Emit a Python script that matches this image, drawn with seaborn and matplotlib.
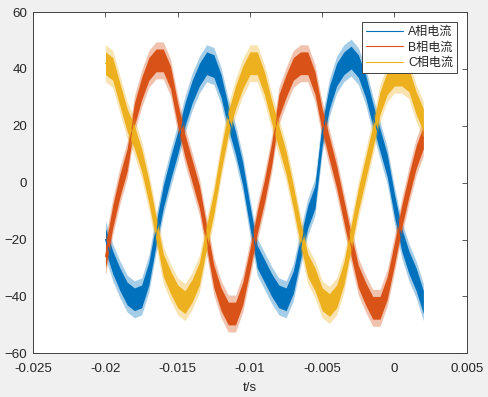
import numpy as np
import pandas as pd
import matplotlib
matplotlib.use("Agg")
import matplotlib.pyplot as plt
import seaborn as sns

# ---- data (time in s, current centre values) ----
t = [-0.0200, -0.0195, -0.0190, -0.0185, -0.0180, -0.0175, -0.0170, -0.0165,
     -0.0160, -0.0155, -0.0150, -0.0145, -0.0140, -0.0135, -0.0130, -0.0125,
     -0.0120, -0.0115, -0.0110, -0.0105, -0.0100, -0.0095, -0.0090, -0.0085,
     -0.0080, -0.0075, -0.0070, -0.0065, -0.0060, -0.0055, -0.0050, -0.0045,
     -0.0040, -0.0035, -0.0030, -0.0025, -0.0020, -0.0015, -0.0010, -0.0005,
     0.0000, 0.0005, 0.0010, 0.0015, 0.0020]

ia = [-20, -28, -34, -39, -41, -40, -32, -18, -5, 5, 14, 24, 32, 38, 42, 41,
      34, 23, 14, 3, -12, -26, -31, -36, -40, -41, -35, -23, -12, -5, 17, 30,
      38, 42, 44, 41, 34, 24, 15, 6, -8, -20, -28, -34, -42]
ib = [-26, -12, -1, 8, 24, 33, 40, 43, 43, 37, 24, 13, 4, -5, -19, -33,
      -41, -46, -46, -39, -27, -14, -3, 10, 27, 34, 40, 42, 42, 35, 22, 12,
      2, -10, -22, -33, -39, -44, -44, -37, -25, -12, -1, 9, 16]
ic = [42, 40, 31, 22, 16, 8, -3, -16, -29, -35, -40, -42, -38, -32, -19, -7,
      8, 21, 30, 37, 42, 42, 35, 25, 16, 7, -5, -18, -29, -34, -41, -43,
      -40, -32, -19, -6, 5, 16, 28, 35, 38, 38, 36, 28, 22]

series_names = ["A相电流", "B相电流", "C相电流"]
series_values = [ia, ib, ic]
inner_halfwidth = [4, 4, 4]        # dense ripple band
outer_halfwidth = [6.5, 6.5, 6.5]  # sparse ripple spikes

x_ticks = [-0.025, -0.02, -0.015, -0.01, -0.005, 0, 0.005]
x_tick_labels = ["-0.025", "-0.02", "-0.015", "-0.01", "-0.005", "0", "0.005"]
y_ticks = [-60, -40, -20, 0, 20, 40, 60]

colors = ["#0072BD", "#D95319", "#EDB120"]

# ---- figure ----
sns.set_theme(style="white")
plt.rcParams["font.family"] = ["Liberation Sans", "Noto Sans CJK SC", "DejaVu Sans"]

fig = plt.figure(figsize=(4.89, 3.97), dpi=100, facecolor="#F0F0F0")
ax = fig.add_axes([0.068, 0.110, 0.8864, 0.8597])
ax.set_facecolor("white")

df = pd.concat([pd.DataFrame({"t": t, "i": v, "phase": n})
                for n, v in zip(series_names, series_values)], ignore_index=True)

for name, vals, col, hin, hout in zip(series_names, series_values, colors,
                                      inner_halfwidth, outer_halfwidth):
    v = np.asarray(vals, dtype=float)
    ax.fill_between(t, v - hout, v + hout, color=col, alpha=0.35, lw=0)
    ax.fill_between(t, v - hin, v + hin, color=col, alpha=1.0, lw=0)

sns.lineplot(data=df, x="t", y="i", hue="phase", palette=colors, ax=ax,
             linewidth=0.8, legend=True)

ax.set_xlim(-0.025, 0.005)
ax.set_ylim(-60, 60)
ax.set_xticks(x_ticks)
ax.set_xticklabels(x_tick_labels)
ax.set_yticks(y_ticks)
ax.set_xlabel("t/s", fontsize=9.6, color="#262626", labelpad=5)
ax.set_ylabel("")

ax.tick_params(axis="both", which="both", direction="in", length=3.5, width=0.6,
               top=True, right=True, labelsize=9.6, colors="#404040")
ax.tick_params(axis="x", pad=7)
ax.tick_params(axis="y", pad=4.5)
ax.tick_params(axis="both", labelcolor="#262626")
for s in ax.spines.values():
    s.set_color("#404040")
    s.set_linewidth(0.7)

handles, labels = ax.get_legend_handles_labels()
for h in handles:
    h.set_linewidth(0.8)
leg = ax.legend(handles, labels, loc="upper right", bbox_to_anchor=(0.977, 0.970),
                fontsize=8.7, frameon=True, fancybox=False, framealpha=1,
                edgecolor="#404040", handlelength=3.1, handletextpad=0.4,
                borderpad=0.3, labelspacing=0.3, borderaxespad=0)
leg.get_frame().set_linewidth(0.7)

fig.savefig("out.png", dpi=100, facecolor=fig.get_facecolor())
